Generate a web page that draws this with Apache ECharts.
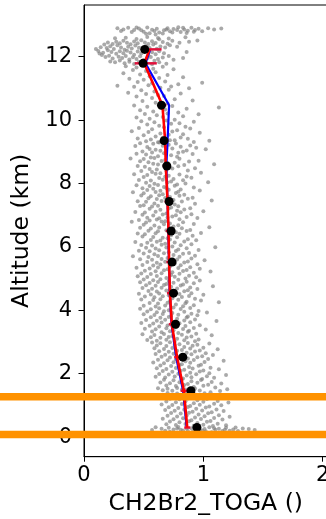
<!DOCTYPE html>
<html>
<head>
<meta charset="utf-8">
<script src="https://cdn.jsdelivr.net/npm/echarts@6/dist/echarts.min.js"></script>
<style>html,body{margin:0;padding:0;background:#fff}#c{width:326px;height:519px}</style>
</head>
<body>
<div id="c"></div>
<script>
// Profile levels (km) and profile values
const altLevels = [0.30,1.46,2.52,3.56,4.54,5.52,6.50,7.43,8.55,9.35,10.47,11.79,12.23];
const medianX  = [0.946,0.896,0.828,0.767,0.750,0.738,0.730,0.713,0.694,0.671,0.649,0.495,0.509];
const meanX    = [0.865,0.837,0.780,0.736,0.720,0.713,0.708,0.700,0.685,0.680,0.657,0.505,0.550];
const blueX    = [0.860,0.830,0.772,0.733,0.718,0.712,0.706,0.700,0.690,0.700,0.713,0.515,0.555];
const errLo    = [0.840,0.810,0.755,0.710,0.695,0.690,0.685,0.675,0.660,0.655,0.625,0.425,0.480];
const errHi    = [0.890,0.865,0.805,0.760,0.745,0.735,0.730,0.725,0.710,0.705,0.690,0.610,0.650];
const orangeAlts = [1.27, 0.08];
const xTicks = [0,1,2];
const yTicks = [0,2,4,6,8,10,12];

// Individual samples [value, altitude]
const grayTop = [
[0.28,12.90],[0.33,12.86],[0.37,12.91],[0.42,12.84],[0.46,12.89],[0.50,12.79],[0.53,12.92],[0.57,12.85],[0.61,12.88],[0.63,12.76],
[0.67,12.83],[0.70,12.90],[0.72,12.80],[0.75,12.87],[0.79,12.93],[0.81,12.78],[0.84,12.86],[0.87,12.82],[0.90,12.91],[0.93,12.84],
[0.96,12.88],[0.99,12.80],[1.04,12.90],[1.09,12.86],[1.15,12.89],[0.31,12.81],[0.40,12.78],[0.55,12.74],[0.59,12.81],[0.66,12.73],
[0.74,12.76],[0.78,12.84],[0.86,12.75],[0.92,12.79],[0.44,12.92],[0.48,12.83],[0.69,12.86],[0.83,12.91],[0.60,12.70],[0.52,12.72]
];
const grayCluster = [
[0.14,12.30],[0.19,12.27],[0.22,12.33],[0.25,12.24],[0.28,12.36],[0.31,12.29],[0.34,12.22],[0.37,12.31],[0.40,12.26],[0.43,12.35],
[0.46,12.28],[0.49,12.21],[0.52,12.34],[0.55,12.27],[0.58,12.38],[0.61,12.25],[0.64,12.32],[0.68,12.29],[0.72,12.36],[0.78,12.31],
[0.12,12.18],[0.16,12.12],[0.20,12.20],[0.23,12.15],[0.27,12.09],[0.30,12.17],[0.33,12.11],[0.36,12.19],[0.39,12.13],[0.42,12.06],
[0.45,12.16],[0.48,12.10],[0.51,12.19],[0.54,12.04],[0.57,12.14],[0.60,12.08],[0.63,12.17],[0.67,12.11],[0.71,12.02],[0.86,12.15],
[0.15,12.05],[0.18,11.99],[0.21,12.03],[0.24,11.94],[0.29,12.00],[0.32,11.96],[0.35,12.02],[0.38,11.91],[0.41,11.98],[0.44,11.93],
[0.47,12.01],[0.50,11.89],[0.53,11.95],[0.56,11.99],[0.59,11.87],[0.62,11.93],[0.66,11.97],[0.75,11.90],[0.83,11.96],
[0.22,11.85],[0.26,11.82],[0.30,11.88],[0.34,11.79],[0.38,11.84],[0.42,11.77],[0.46,11.83],[0.52,11.80],[0.57,11.76],[0.63,11.82],[0.69,11.78],
[0.20,12.45],[0.24,12.40],[0.27,12.47],[0.30,12.42],[0.33,12.50],[0.36,12.44],[0.39,12.39],[0.42,12.48],[0.45,12.42],[0.48,12.52],
[0.51,12.45],[0.54,12.40],[0.57,12.49],[0.60,12.43],[0.63,12.55],[0.66,12.46],[0.70,12.41],[0.74,12.50],[0.80,12.44],[0.88,12.47],[0.95,12.51],
[0.10,12.24],[0.13,12.10],[0.17,12.38],[0.26,12.58],[0.35,12.60],[0.44,12.56],[0.53,12.62],[0.62,12.59],[0.71,12.57],[0.85,12.61]
];
const grayUpper = [
[0.35,11.70],[0.44,11.66],[0.58,11.62],[0.66,11.68],[0.41,11.58],[0.52,11.55],[0.75,11.60],[0.33,11.48],[0.47,11.44],[0.60,11.51],
[0.55,11.38],[0.70,11.42],[0.83,11.35],[0.38,11.30],[0.50,11.27],[0.63,11.33],[0.45,11.20],[0.57,11.16],[0.68,11.22],[0.79,11.13],
[0.99,11.18],[0.28,11.08],[0.42,11.05],[0.54,11.10],[0.64,11.02],[0.73,11.06],[0.88,11.00],[0.48,10.94],[0.59,10.90],[0.71,10.96],
[0.37,10.86],[0.52,10.82],[0.62,10.79],[0.81,10.84],[0.44,10.74],[0.57,10.70],[0.67,10.76],[0.76,10.66],[0.91,10.62],[0.49,10.60],
[0.60,10.55],[0.70,10.52],
[0.42,10.46],[0.53,10.42],[0.64,10.38],[0.74,10.44],[0.86,10.36],[1.13,10.40],[0.47,10.31],[0.58,10.27],[0.68,10.33],[0.79,10.24],
[0.51,10.19],[0.61,10.15],[0.70,10.21],[0.83,10.12],[0.96,10.18],[0.44,10.08],[0.55,10.04],[0.66,10.10],[0.76,10.01],[0.48,9.96],
[0.59,9.93],[0.69,9.99],[0.80,9.90],[0.92,9.95],[0.53,9.86],[0.63,9.82],[0.73,9.88],[0.85,9.79],[0.46,9.75],[0.57,9.71],
[0.67,9.77],[0.78,9.68],[0.89,9.73],[0.40,9.65],[0.54,9.62],[0.64,9.58],[0.74,9.64],[0.83,9.55],[0.97,9.60],[0.50,9.52],
[0.60,9.48],[0.71,9.54],[0.81,9.45],[0.45,9.42],[0.56,9.39],[0.66,9.44],[0.76,9.36],[0.87,9.41],[1.05,9.35],[0.52,9.33],
[0.62,9.30],[0.72,9.36],[0.92,9.31]
];
const grayMid = [
[0.47,9.27],[0.58,9.25],[0.63,9.29],[0.71,9.22],[0.77,9.26],[0.89,9.20],[0.43,9.18],[0.53,9.15],[0.66,9.19],[0.69,9.12],
[0.81,9.16],[0.94,9.13],[0.55,9.09],[0.60,9.06],[0.74,9.10],[0.86,9.04],[1.02,9.08],[0.49,9.01],[0.57,8.98],[0.64,9.03],
[0.79,8.97],[0.83,9.00],[0.44,8.94],[0.52,8.91],[0.67,8.95],[0.73,8.89],[0.91,8.93],[0.62,8.86],[0.78,8.84],[0.56,8.82],
[0.39,8.79],[0.50,8.77],[0.59,8.80],[0.68,8.74],[0.80,8.78],[0.96,8.72],[0.47,8.70],[0.54,8.67],[0.65,8.71],[0.76,8.65],
[0.88,8.69],[0.58,8.62],[0.62,8.60],[0.70,8.64],[0.84,8.58],[1.09,8.61],[0.45,8.55],[0.51,8.53],[0.67,8.57],[0.72,8.50],
[0.79,8.54],[0.93,8.48],[0.55,8.46],[0.61,8.44],[0.74,8.47],[0.87,8.41],[0.48,8.39],[0.57,8.36],[0.69,8.40],[0.98,8.34],[0.64,8.32],
[0.42,8.29],[0.53,8.27],[0.60,8.31],[0.71,8.24],[0.80,8.28],[0.86,8.22],[0.50,8.20],[0.63,8.17],[0.68,8.21],[0.75,8.14],
[0.90,8.18],[0.46,8.11],[0.56,8.09],[0.66,8.12],[0.73,8.06],[0.83,8.10],[1.04,8.04],[0.52,8.02],[0.59,7.99],[0.70,8.03],
[0.78,7.97],[0.85,8.00],[0.44,7.94],[0.55,7.92],[0.62,7.95],[0.67,7.89],[0.76,7.93],[0.92,7.87],[0.49,7.85],[0.58,7.83],[0.69,7.86],[0.81,7.81],
[0.53,7.79],[0.64,7.77],[0.71,7.80],[0.79,7.74],[0.97,7.78],[0.41,7.72],[0.50,7.69],[0.60,7.73],[0.66,7.66],[0.77,7.70],
[0.84,7.64],[0.48,7.62],[0.56,7.60],[0.63,7.63],[0.72,7.57],[0.80,7.61],[0.91,7.55],[0.54,7.53],[0.61,7.51],[0.68,7.54],
[0.75,7.48],[0.87,7.52],[1.07,7.46],[0.45,7.44],[0.52,7.42],[0.65,7.45],[0.70,7.39],[0.82,7.43],[0.59,7.37],[0.76,7.34],[0.93,7.36],[0.50,7.31],
[0.47,7.29],[0.57,7.27],[0.62,7.30],[0.73,7.24],[0.79,7.28],[0.89,7.22],[0.55,7.20],[0.64,7.17],[0.71,7.21],[0.78,7.14],
[0.84,7.18],[1.00,7.12],[0.43,7.10],[0.51,7.08],[0.60,7.11],[0.69,7.05],[0.81,7.09],[0.90,7.03],[0.49,7.01],[0.58,6.99],
[0.66,7.02],[0.74,6.96],[0.77,7.00],[0.86,6.94],[0.53,6.92],[0.63,6.90],[0.70,6.93],[0.80,6.87],[0.95,6.91],[0.46,6.85],
[0.55,6.83],[0.61,6.86],[0.68,6.81],
[0.40,6.79],[0.52,6.77],[0.65,6.80],[0.72,6.74],[0.83,6.78],[0.92,6.72],[0.50,6.70],[0.59,6.67],[0.67,6.71],[0.75,6.64],
[0.79,6.68],[1.05,6.62],[0.47,6.60],[0.56,6.58],[0.63,6.61],[0.71,6.55],[0.82,6.59],[0.89,6.53],[0.54,6.51],[0.62,6.49],
[0.69,6.52],[0.77,6.46],[0.86,6.50],[0.98,6.44],[0.45,6.42],[0.51,6.40],[0.60,6.43],[0.73,6.37],[0.80,6.41],[0.91,6.35],[0.49,6.33],[0.58,6.31],
[0.66,6.29],[0.70,6.27],[0.78,6.30],[0.87,6.24],[0.56,6.22],[0.64,6.20],[0.72,6.23],[0.84,6.17],[0.94,6.21],[0.43,6.15],
[0.53,6.13],[0.61,6.16],[0.68,6.10],[0.76,6.14],[0.90,6.08],[0.48,6.06],[0.57,6.04],[0.65,6.07],[0.74,6.01],[0.81,6.05],
[1.10,5.99],[0.52,5.97],[0.60,5.95],[0.69,5.98],[0.79,5.92],[0.86,5.96],[0.96,5.90],[0.46,5.88],[0.55,5.86],[0.63,5.89],
[0.71,5.83],[0.77,5.87],[0.88,5.81],
[0.50,5.79],[0.59,5.77],[0.67,5.80],[0.75,5.74],[0.83,5.78],[0.93,5.72],[0.41,5.70],[0.54,5.68],[0.62,5.71],[0.70,5.65],
[0.80,5.69],[0.90,5.63],[0.47,5.61],[0.57,5.59],[0.65,5.62],[0.73,5.56],[0.78,5.60],[0.87,5.54],[1.01,5.58],[0.53,5.52],
[0.61,5.50],[0.68,5.53],[0.76,5.47],[0.84,5.51],[0.95,5.45],[0.49,5.43],[0.58,5.41],[0.64,5.44],[0.72,5.38],[0.81,5.42],
[0.89,5.36],[0.44,5.34],[0.55,5.32],[0.62,5.35],[0.70,5.29],[0.79,5.33],[0.86,5.27],[0.97,5.31],[0.51,5.25],[0.60,5.23],
[0.67,5.26],[0.74,5.20],[0.83,5.24],[0.92,5.18],[1.06,5.22],[0.48,5.16],[0.56,5.14],[0.65,5.17],[0.73,5.11],[0.80,5.15],
[0.88,5.09],[0.45,5.07],[0.53,5.05],[0.61,5.08],[0.69,5.02],[0.76,5.06],[0.85,5.00],[0.94,5.04]
];
const grayLow = [
[0.50,4.97],[0.58,4.95],[0.64,4.98],[0.71,4.92],[0.79,4.96],[0.86,4.90],[0.97,4.94],[0.47,4.88],[0.55,4.86],[0.62,4.89],
[0.69,4.83],[0.75,4.87],[0.83,4.81],[0.92,4.85],[0.52,4.79],[0.60,4.77],[0.67,4.80],[0.73,4.74],[0.81,4.78],[0.89,4.72],
[1.08,4.76],[0.49,4.70],[0.57,4.68],[0.65,4.71],[0.72,4.65],[0.78,4.69],[0.87,4.63],[0.95,4.67],[0.54,4.61],[0.61,4.59],
[0.69,4.62],[0.76,4.56],[0.84,4.60],[0.90,4.54],[0.46,4.52],[0.56,4.50],[0.63,4.53],[0.71,4.47],[0.80,4.51],[0.88,4.45],
[1.00,4.49],[0.51,4.43],[0.59,4.41],[0.66,4.44],[0.74,4.38],[0.82,4.42],[0.93,4.36],[0.48,4.34],[0.58,4.32],[0.64,4.35],
[0.72,4.29],[0.79,4.33],[0.86,4.27],[0.98,4.31],[1.13,4.25],[0.55,4.23],[0.62,4.21],[0.70,4.24],[0.77,4.18],[0.85,4.22],
[0.92,4.16],[0.50,4.14],[0.60,4.12],[0.68,4.15],[0.75,4.09],[0.83,4.13],[0.89,4.07],[0.47,4.05],[0.56,4.03],[0.63,4.06],
[0.71,4.00],[0.81,4.04],[0.96,3.98],[0.53,3.96],[0.61,3.94],[0.67,3.97],[0.74,3.91],[0.84,3.95],[0.90,3.89],[1.03,3.93],
[0.50,3.87],[0.59,3.85],[0.66,3.88],[0.73,3.82],[0.79,3.86],[0.87,3.80],[0.95,3.84],[0.56,3.78],[0.64,3.76],[0.71,3.79],
[0.78,3.73],[0.86,3.77],[0.93,3.71],[0.52,3.69],[0.61,3.67],[0.68,3.70],[0.76,3.64],[0.84,3.68],[0.89,3.62],[1.11,3.66],
[0.48,3.60],[0.58,3.58],[0.65,3.61],[0.73,3.55],[0.80,3.59],[0.97,3.53],[0.55,3.51],[0.63,3.49],[0.70,3.52],[0.77,3.46],
[0.85,3.50],[0.92,3.44],[0.51,3.42],[0.60,3.40],[0.69,3.43],[0.75,3.37],[0.83,3.41],[0.88,3.35],[1.02,3.39],[0.57,3.33],
[0.65,3.31],[0.72,3.34],[0.79,3.28],[0.87,3.32],[0.94,3.26],[0.49,3.24],[0.59,3.22],[0.67,3.25],[0.74,3.19],[0.82,3.23],
[0.90,3.17],[1.07,3.21],[0.56,3.15],[0.64,3.13],[0.71,3.16],[0.78,3.10],[0.86,3.14],[0.96,3.08],[0.53,3.06],[0.61,3.04],
[0.69,3.07],[0.76,3.01],[0.84,3.05],[0.93,3.02],
[0.57,2.98],[0.64,2.96],[0.72,2.99],[0.80,2.93],[0.87,2.97],[0.95,2.91],[1.05,2.95],[0.61,2.89],[0.69,2.87],[0.76,2.90],
[0.84,2.84],[0.91,2.88],[1.00,2.82],[0.59,2.80],[0.67,2.78],[0.74,2.81],[0.82,2.75],[0.89,2.79],[0.97,2.73],[1.12,2.77],
[0.63,2.71],[0.71,2.69],[0.78,2.72],[0.86,2.66],[0.93,2.70],[1.02,2.64],[0.60,2.62],[0.68,2.60],[0.75,2.63],[0.83,2.57],
[0.90,2.61],[0.99,2.55],[1.08,2.59],[0.65,2.53],[0.72,2.51],[0.80,2.54],[0.87,2.48],[0.95,2.52],[1.04,2.46],[0.62,2.44],
[0.70,2.42],[0.77,2.45],[0.85,2.39],[0.92,2.43],[1.01,2.37],[1.17,2.41],[0.58,2.35],[0.67,2.33],[0.75,2.36],[0.82,2.30],
[0.89,2.34],[0.98,2.28],[0.64,2.26],[0.73,2.24],[0.80,2.27],[0.88,2.21],[0.96,2.25],[1.06,2.19],[0.61,2.17],[0.69,2.15],
[0.77,2.18],[0.84,2.12],[0.91,2.16],[1.00,2.10],[1.13,2.14],[0.66,2.08],[0.74,2.06],[0.81,2.09],[0.89,2.03],[0.97,2.07],
[1.05,2.01],[0.63,1.99],[0.71,1.97],[0.79,2.00],[0.86,1.94],[0.94,1.98],[1.03,1.92],[1.19,1.96],[0.60,1.90],[0.68,1.88],
[0.76,1.91],[0.83,1.85],[0.90,1.89],[0.99,1.83],[1.09,1.87],[0.67,1.81],[0.75,1.79],[0.82,1.82],[0.90,1.76],[0.98,1.80],
[1.07,1.74],[0.64,1.72],[0.72,1.70],[0.80,1.73],[0.87,1.67],[0.95,1.71],[1.04,1.65],[1.15,1.69],[0.69,1.63],[0.77,1.61],
[0.84,1.64],[0.92,1.58],[1.00,1.62],[1.10,1.56],[0.62,1.54],[0.70,1.52],[0.78,1.55],[0.85,1.50],[0.93,1.53],[1.20,1.51]
];
const graySurface = [
[0.66,1.48],[0.74,1.46],[0.82,1.49],[0.89,1.43],[0.97,1.47],[1.06,1.41],[1.14,1.45],[0.70,1.39],[0.78,1.37],[0.86,1.40],
[0.93,1.34],[1.01,1.38],[1.10,1.32],[0.67,1.30],[0.76,1.28],[0.84,1.31],[0.91,1.25],[0.99,1.29],[1.08,1.23],[1.18,1.27],
[0.72,1.21],[0.80,1.19],[0.87,1.22],[0.95,1.16],[1.03,1.20],[1.12,1.14],[0.69,1.12],[0.77,1.10],[0.85,1.13],[0.92,1.07],
[1.00,1.11],[1.09,1.05],[1.21,1.09],[0.65,1.03],[0.74,1.01],[0.82,1.04],[0.89,0.98],[0.97,1.02],[1.05,0.96],[1.15,1.00],
[0.71,0.94],[0.79,0.92],[0.87,0.95],[0.94,0.89],[1.02,0.93],[1.11,0.87],[0.68,0.85],[0.76,0.83],[0.84,0.86],[0.91,0.80],
[0.99,0.84],[1.07,0.78],[1.17,0.82],[0.73,0.76],[0.81,0.74],[0.88,0.77],[0.96,0.71],[1.04,0.75],[1.13,0.69],[0.70,0.67],
[0.78,0.65],[0.86,0.68],[0.93,0.62],[1.01,0.66],[1.09,0.60],[1.22,0.64],[0.66,0.58],[0.75,0.56],[0.83,0.59],[0.90,0.53],
[0.98,0.57],[1.06,0.51],[1.16,0.55],[0.72,0.49],[0.80,0.47],[0.88,0.50],[0.95,0.44],[1.03,0.48],[1.12,0.42],[0.69,0.40],
[0.77,0.38],[0.85,0.41],[0.92,0.36],[1.00,0.39],[1.08,0.35],[1.19,0.37],
[0.60,0.31],[0.71,0.29],[0.79,0.32],[0.86,0.27],[0.93,0.30],[1.01,0.25],[1.09,0.28],[1.18,0.23],[1.27,0.30],[0.65,0.26],
[0.75,0.24],[0.83,0.21],[0.90,0.28],[0.97,0.22],[1.05,0.31],[1.13,0.26],[1.22,0.20],[1.33,0.27],[1.43,0.22],[0.57,0.22],
[0.68,0.20],[0.78,0.27],[0.87,0.19],[0.94,0.24],[1.02,0.18],[1.10,0.23],[1.19,0.29],[1.29,0.19],[1.38,0.25],[0.72,0.17],
[0.81,0.23],[0.91,0.16],[0.99,0.21],[1.07,0.15],[1.16,0.19],[1.25,0.24]
];

const grayPts = [].concat(grayTop, grayCluster, grayUpper, grayMid, grayLow, graySurface);
const zip = (xs) => xs.map((x, i) => [x, altLevels[i]]);
const errData = altLevels.map((a, i) => [errLo[i], errHi[i], a]);

const chart = echarts.init(document.getElementById('c'), null, {renderer: 'canvas'});
const FONT = 'DejaVu Sans';

function hLine(color, width) {
  return (params, api) => {
    const a = api.value(2);
    const p1 = api.coord([api.value(0), a]);
    const p2 = api.coord([api.value(1), a]);
    return {type: 'line', shape: {x1: p1[0], y1: p1[1], x2: p2[0], y2: p2[1]},
            style: {stroke: color, lineWidth: width}};
  };
}

chart.setOption({
  animation: false,
  grid: {left: 84, right: -1.5, top: 5, bottom: 62.3, outerBoundsMode: 'none', containLabel: false,
         show: true, borderColor: '#000', borderWidth: 1, backgroundColor: 'transparent'},
  xAxis: {
    type: 'value', min: 0, max: 2.04,
    name: 'CH2Br2_TOGA ()', nameLocation: 'middle', nameGap: 35,
    nameTextStyle: {fontFamily: FONT, fontSize: 23.5, color: '#000'},
    axisLine: {show: true, onZero: false, lineStyle: {color: '#000', width: 1}},
    axisTick: {show: true, length: 5, customValues: xTicks, lineStyle: {color: '#000'}},
    axisLabel: {customValues: xTicks, fontFamily: FONT, fontSize: 21, color: '#000', margin: 8},
    splitLine: {show: false}
  },
  yAxis: {
    type: 'value', min: -0.62, max: 13.63,
    name: 'Altitude (km)', nameLocation: 'middle', nameGap: 47,
    nameTextStyle: {fontFamily: FONT, fontSize: 23.5, color: '#000'},
    axisLine: {show: true, onZero: false, lineStyle: {color: '#000', width: 1}},
    axisTick: {show: true, length: 5.5, customValues: yTicks, lineStyle: {color: '#000'}},
    axisLabel: {customValues: yTicks, fontFamily: FONT, fontSize: 21, color: '#000', margin: 12},
    splitLine: {show: false}
  },
  series: [
    {type: 'scatter', data: grayPts, symbolSize: 4, silent: true,
     itemStyle: {color: 'rgb(128,128,128)', opacity: 0.68}, z: 1},
    {type: 'line', data: zip(blueX), symbol: 'none', silent: true,
     lineStyle: {color: '#0000ff', width: 2.2}, z: 2},
    {type: 'custom', data: errData, silent: true, z: 3,
     encode: {x: [0, 1], y: 2}, renderItem: hLine('#e0103a', 2.5)},
    {type: 'line', data: zip(meanX), symbol: 'none', silent: true,
     lineStyle: {color: '#ff0000', width: 2.6}, z: 4},
    {type: 'scatter', data: zip(medianX), symbolSize: 9, silent: true,
     itemStyle: {color: '#000', opacity: 1}, z: 5},
    {type: 'custom', data: orangeAlts.map(a => [-1, 3, a]), silent: true, z: 10, clip: false,
     encode: {x: [0, 1], y: 2}, renderItem: hLine('#ff9200', 7.5)}
  ]
});
</script>
</body>
</html>
